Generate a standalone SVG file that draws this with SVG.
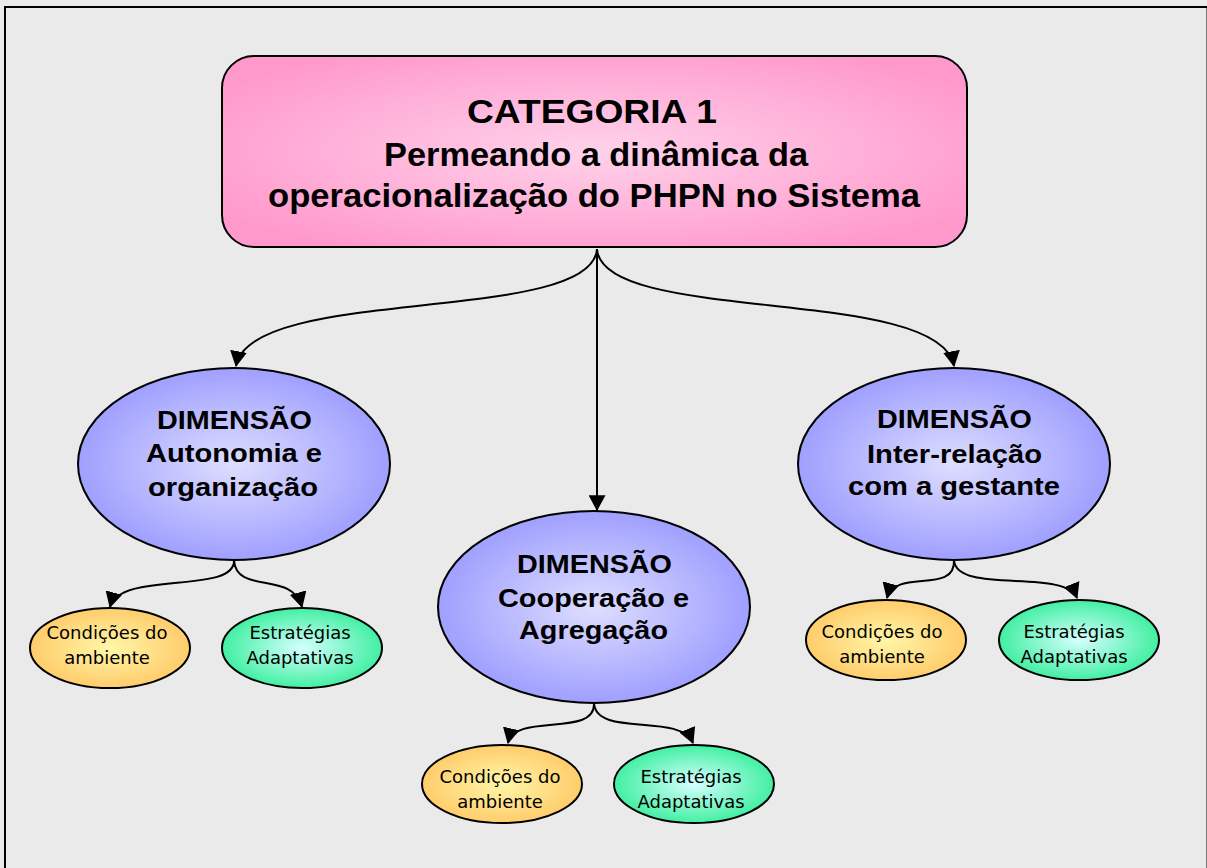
<svg xmlns="http://www.w3.org/2000/svg" width="1207" height="868" viewBox="0 0 1207 868">
<defs>
<radialGradient id="gPink" cx="0.5" cy="0.5" r="0.6">
<stop offset="0" stop-color="#FFD2EA"/><stop offset="1" stop-color="#FF99CC"/>
</radialGradient>
<radialGradient id="gBlue" cx="0.5" cy="0.5" r="0.55">
<stop offset="0" stop-color="#DEDEFF"/><stop offset="1" stop-color="#9999FF"/>
</radialGradient>
<radialGradient id="gOrange" cx="0.5" cy="0.5" r="0.55">
<stop offset="0" stop-color="#FFF7A8"/><stop offset="1" stop-color="#FFC866"/>
</radialGradient>
<radialGradient id="gGreen" cx="0.5" cy="0.5" r="0.55">
<stop offset="0" stop-color="#D6FFFF"/><stop offset="1" stop-color="#33EE99"/>
</radialGradient>
<marker id="arr" markerUnits="userSpaceOnUse" markerWidth="17" markerHeight="17" viewBox="0 0 16 16" refX="14" refY="8" orient="auto">
<path d="M0,0 L15,8 L0,16 Z" fill="#000"/>
</marker>
</defs>
<style>
.big{font-family:"Liberation Sans",Arial,sans-serif;font-weight:bold;fill:#000;text-anchor:middle}
.sm{font-family:"DejaVu Sans",Verdana,sans-serif;font-size:18px;fill:#000;text-anchor:middle}
.con{fill:none;stroke:#000;stroke-width:2;marker-end:url(#arr)}
.node{stroke:#000;stroke-width:2}
</style>
<rect x="0" y="0" width="1207" height="868" fill="#EAEAEA"/>
<rect x="5" y="7" width="1202.5" height="880" fill="none" stroke="#000" stroke-width="2"/>

<g id="connectors">
<path class="con" d="M597,249 C592,325 250,285 236,366"/>
<path class="con" d="M597,249 L597,510"/>
<path class="con" d="M597,249 C602,325 940,285 954,366"/>
<path class="con" d="M234,560 C236,595 120,570 110,607"/>
<path class="con" d="M234,560 C236,595 292,570 302,607"/>
<path class="con" d="M594,703 C596,738 515,712 508,743"/>
<path class="con" d="M594,703 C596,738 680,712 693,743"/>
<path class="con" d="M954,560 C956,595 895,568 887,598"/>
<path class="con" d="M954,560 C956,595 1065,568 1077,598"/>
</g>

<g id="categoria">
<rect class="node" x="222" y="56" width="745" height="191" rx="32" ry="32" fill="url(#gPink)"/>
<text class="big" x="592" y="123" font-size="34" textLength="250" lengthAdjust="spacingAndGlyphs">CATEGORIA 1</text>
<text class="big" x="596" y="166" font-size="34" textLength="424" lengthAdjust="spacingAndGlyphs">Permeando a dinâmica da</text>
<text class="big" x="594" y="207" font-size="34" textLength="652" lengthAdjust="spacingAndGlyphs">operacionalização do PHPN no Sistema</text>
</g>

<g id="dim-autonomia">
<ellipse class="node" cx="234" cy="464" rx="156" ry="96" fill="url(#gBlue)"/>
<text class="big" x="234.5" y="429" font-size="26" textLength="155" lengthAdjust="spacingAndGlyphs">DIMENSÃO</text>
<text class="big" x="234" y="462" font-size="26" textLength="176" lengthAdjust="spacingAndGlyphs">Autonomia e</text>
<text class="big" x="233" y="496" font-size="26" textLength="170" lengthAdjust="spacingAndGlyphs">organização</text>
</g>

<g id="dim-cooperacao">
<ellipse class="node" cx="594" cy="607" rx="156" ry="96" fill="url(#gBlue)"/>
<text class="big" x="594.5" y="573" font-size="26" textLength="155" lengthAdjust="spacingAndGlyphs">DIMENSÃO</text>
<text class="big" x="593.5" y="607" font-size="26" textLength="191" lengthAdjust="spacingAndGlyphs">Cooperação e</text>
<text class="big" x="593.5" y="639" font-size="26" textLength="149" lengthAdjust="spacingAndGlyphs">Agregação</text>
</g>

<g id="dim-interrelacao">
<ellipse class="node" cx="954" cy="464" rx="156" ry="96" fill="url(#gBlue)"/>
<text class="big" x="954.5" y="428" font-size="26" textLength="155" lengthAdjust="spacingAndGlyphs">DIMENSÃO</text>
<text class="big" x="954.5" y="463" font-size="26" textLength="175" lengthAdjust="spacingAndGlyphs">Inter-relação</text>
<text class="big" x="954" y="495" font-size="26" textLength="212" lengthAdjust="spacingAndGlyphs">com a gestante</text>
</g>

<g id="cond-left">
<ellipse class="node" cx="110" cy="648" rx="80" ry="40" fill="url(#gOrange)"/>
<text class="sm" x="107" y="639">Condições do</text>
<text class="sm" x="107" y="664">ambiente</text>
</g>
<g id="estr-left">
<ellipse class="node" cx="302" cy="648" rx="80" ry="40" fill="url(#gGreen)"/>
<text class="sm" x="300" y="639">Estratégias</text>
<text class="sm" x="300" y="664">Adaptativas</text>
</g>

<g id="cond-mid">
<ellipse class="node" cx="502" cy="784" rx="80" ry="39" fill="url(#gOrange)"/>
<text class="sm" x="500" y="783">Condições do</text>
<text class="sm" x="500" y="808">ambiente</text>
</g>
<g id="estr-mid">
<ellipse class="node" cx="694" cy="784" rx="80" ry="39" fill="url(#gGreen)"/>
<text class="sm" x="691" y="783">Estratégias</text>
<text class="sm" x="691" y="808">Adaptativas</text>
</g>

<g id="cond-right">
<ellipse class="node" cx="886" cy="640" rx="80" ry="40" fill="url(#gOrange)"/>
<text class="sm" x="882" y="638">Condições do</text>
<text class="sm" x="882" y="663">ambiente</text>
</g>
<g id="estr-right">
<ellipse class="node" cx="1079" cy="640" rx="80" ry="40" fill="url(#gGreen)"/>
<text class="sm" x="1074" y="638">Estratégias</text>
<text class="sm" x="1074" y="663">Adaptativas</text>
</g>
</svg>
